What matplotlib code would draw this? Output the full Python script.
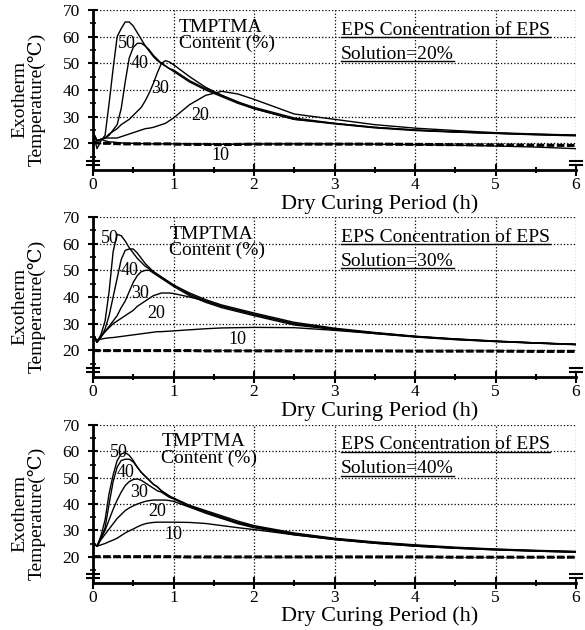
import matplotlib
matplotlib.use("Agg")
import matplotlib.pyplot as plt
from matplotlib.transforms import blended_transform_factory
import numpy as np

plt.rcParams['font.family'] = ['Liberation Serif', 'DejaVu Serif']
plt.rcParams['font.size'] = 13

# time grid (h)
t = [0, .05, .1, .15, .2, .25, .3, .35, .4, .45, .5, .55, .6, .65, .7, .75, .8, .85, .9, .95, 1.0,
     1.2, 1.4, 1.6, 1.8, 2.0, 2.5, 3.0, 3.5, 4.0, 4.5, 5.0, 5.5, 6.0]

contents = ['50', '40', '30', '20', '10']
eps_conc = ['20%', '30%', '40%']

# EPS 20%
eps20_50 = [24, 18, 21, 23, 35, 48, 60, 63, 65.5, 65.5, 64, 61.5, 59, 56.5, 54.5, 52.5, 51, 50, 49, 48, 47.5,
            43.5, 40.5, 38, 35.5, 33.5, 29.5, 27.5, 26, 25, 24.3, 23.8, 23.4, 23]
eps20_40 = [24, 21, 21.5, 22, 23, 25, 27, 33, 43, 52, 56, 57.5, 57.5, 56.5, 55, 53, 51.5, 50, 49, 48, 47,
            43, 40, 37.5, 35, 33, 29, 27.5, 26, 25, 24.3, 23.8, 23.3, 23]
eps20_30 = [24, 21, 21.5, 22, 23.5, 24.5, 25.5, 27, 28, 29, 30.5, 32, 33.5, 36, 39, 42.5, 46.5, 50, 51, 50.5, 49.5,
            45, 41, 38, 35.5, 33, 29, 27.3, 25.8, 24.8, 24.2, 23.7, 23.2, 22.8]
eps20_20 = [24, 21, 21.5, 22, 22, 22, 22, 22.5, 23, 23.5, 24, 24.5, 25, 25.5, 25.7, 26, 26.5, 27, 27.5, 28.5, 29.5,
            34.5, 38, 39.5, 38.5, 36.5, 31, 29, 27, 25.7, 24.8, 24, 23.5, 23.1]
eps20_10 = [24, 21, 21.5, 21, 20.5, 20.5, 20.3, 20.2, 20, 20, 20, 20, 19.9, 19.9, 19.8, 19.8, 19.8, 19.8, 19.8, 19.8, 19.8,
            19.8, 19.7, 19.6, 19.6, 19.7, 19.8, 19.8, 19.7, 19.5, 19.3, 19, 18.6, 18]
eps20_ref = [20.2, 20.2, 20.1, 20, 20, 19.9, 19.9, 19.8, 19.8, 19.8, 19.8, 19.8, 19.8, 19.8, 19.8, 19.8, 19.8, 19.8, 19.8, 19.8, 19.7,
             19.6, 19.6, 19.5, 19.6, 19.7, 19.7, 19.7, 19.7, 19.6, 19.5, 19.4, 19.3, 19.2]

# EPS 30%
eps30_50 = [26, 23, 26, 31, 42, 57, 63.5, 63, 61, 58.5, 56.5, 54.5, 53, 51.5, 50.5, 49.5, 48.5, 47.5, 46.5, 45.5, 44.5,
            41.5, 39, 37, 35.5, 34, 30.5, 28.3, 26.7, 25.3, 24.3, 23.5, 22.8, 22.3]
eps30_40 = [26, 23, 25, 28, 33, 40, 47, 54, 57.5, 58, 58, 56.5, 54.5, 52.5, 51, 49.5, 48.5, 47.5, 46.5, 45.5, 44.5,
            41, 38.5, 36.5, 35, 33.5, 30, 28, 26.5, 25.2, 24.2, 23.4, 22.8, 22.2]
eps30_30 = [26, 23, 25, 27, 29, 31, 33, 36, 38.5, 42, 45.5, 48, 49.5, 50, 50, 49, 48, 47, 46, 45, 44,
            40.5, 38, 36, 34.5, 33, 29.5, 27.8, 26.3, 25, 24, 23.3, 22.7, 22.2]
eps30_20 = [26, 23, 25.5, 27, 28.5, 30, 31, 32, 33, 34, 35, 36.5, 37.5, 38.5, 39.5, 40.5, 41, 41.5, 41.5, 41.5, 41.3,
            40, 38.5, 36.5, 35, 33.5, 30, 28, 26.5, 25.2, 24.2, 23.4, 22.8, 22.2]
eps30_10 = [25, 24, 24.2, 24.5, 24.7, 24.8, 25, 25.2, 25.4, 25.6, 25.8, 26, 26.2, 26.4, 26.6, 26.8, 27, 27, 27.1, 27.2, 27.3,
            27.7, 28.1, 28.4, 28.5, 28.6, 28.5, 27.5, 26.3, 25.1, 24.1, 23.3, 22.7, 22.1]
eps30_ref = [19.9] * 21 + [19.9, 19.8, 19.8, 19.8, 19.8, 19.8, 19.8, 19.8, 19.7, 19.7, 19.7, 19.6, 19.6]

# EPS 40%
eps40_50 = [25, 24, 28, 34, 44, 51, 56.5, 59, 59.5, 58.5, 56.5, 54, 52, 50.5, 49, 47.5, 46.5, 45, 44, 43, 42.3,
            39.5, 37.5, 35.5, 33.5, 31.8, 29, 27, 25.6, 24.5, 23.6, 22.9, 22.4, 22]
eps40_40 = [25, 24, 27, 31, 40, 48.5, 54, 56.5, 57, 57, 56, 54, 52, 50.5, 49, 47.5, 46.5, 45, 44, 43, 42,
            39.2, 37, 35, 33, 31.5, 28.7, 26.8, 25.4, 24.3, 23.4, 22.8, 22.3, 21.9]
eps40_30 = [25, 24, 27, 30, 34, 38, 41.5, 44.5, 47, 48.5, 49.3, 49.5, 49, 48, 47, 46, 45, 44.5, 43.5, 42.5, 42,
            39, 37, 34.8, 32.8, 31.3, 28.5, 26.7, 25.3, 24.2, 23.3, 22.7, 22.2, 21.8]
eps40_20 = [25, 24, 26.5, 28.5, 30.5, 32.5, 34.5, 36, 37.5, 38.5, 39.3, 40, 40.5, 41, 41.3, 41.5, 41.5, 41.5, 41.5, 41.3, 41,
            38.8, 36.5, 34.5, 32.5, 31, 28.3, 26.5, 25.1, 24, 23.2, 22.6, 22.1, 21.7]
eps40_10 = [25, 24, 24.5, 25, 25.7, 26.3, 27, 28, 29, 29.8, 30.5, 31.3, 32, 32.5, 32.8, 33, 33.1, 33.1, 33.1, 33.1, 33.1,
            33, 32.6, 31.8, 31, 30.3, 28.3, 26.5, 25.1, 24, 23.2, 22.6, 22.1, 21.7]
eps40_ref = [20.0] * 21 + [19.9, 19.9, 19.9, 19.9, 19.9, 19.9, 19.9, 19.9, 19.9, 19.8, 19.8, 19.8, 19.8]

panels = [
    [eps20_50, eps20_40, eps20_30, eps20_20, eps20_10, eps20_ref],
    [eps30_50, eps30_40, eps30_30, eps30_20, eps30_10, eps30_ref],
    [eps40_50, eps40_40, eps40_30, eps40_20, eps40_10, eps40_ref],
]

# curve label positions (x, y) per panel, order 50..10
label_pos = [
    [(0.42, 57.5), (0.58, 50), (0.83, 40.5), (1.33, 30.5), (1.58, 15.5)],
    [(0.21, 61.8), (0.46, 50), (0.58, 41.3), (0.79, 33.8), (1.8, 24)],
    [(0.32, 59.5), (0.41, 52), (0.57, 44.5), (0.8, 37.3), (1.0, 28.6)],
]
tmptma_x = [1.07, 0.95, 0.85]

fig = plt.figure(figsize=(5.85, 6.3), dpi=100)
tops = [10, 217, 425]
bottoms = [170, 377, 583]
axes = []
for k in range(3):
    y0 = 1 - bottoms[k] / 630
    h = (bottoms[k] - tops[k]) / 630
    ax = fig.add_axes([93 / 585, y0, (576 - 93) / 585, h])
    axes.append(ax)
    curves = panels[k]
    for c in curves[:5]:
        ax.plot(t, c, color='black', lw=1.0)
    ax.plot(t, curves[5], color='black', lw=2.2, ls=(0, (2.5, 0.8)))

    for lab, (lx, ly) in zip(contents, label_pos[k]):
        ax.text(lx, ly, lab, ha='center', va='center', fontsize=13)

    ax.text(tmptma_x[k], 66.8, 'TMPTMA\nContent (%)', ha='left', va='top', fontsize=14, linespacing=0.95)

    ax.set_xlim(0, 6)
    ax.set_ylim(10, 70)
    ax.set_xticks(range(7))
    ax.set_xticks(np.arange(0, 6.01, 0.5), minor=True)
    ax.set_yticks(range(20, 71, 10))
    ax.set_yticks(range(15, 71, 5), minor=True)
    ax.tick_params(axis='x', which='major', direction='inout', length=8, width=1.5, labelsize=12.5, pad=1)
    ax.tick_params(axis='x', which='minor', direction='inout', length=5, width=1.5)
    ax.tick_params(axis='y', which='major', direction='inout', length=7, width=1.5, labelsize=12.5, pad=6)
    ax.tick_params(axis='y', which='minor', direction='inout', length=4, width=1.2)
    ax.grid(True, which='major', ls=':', lw=0.9, color='black')
    for s in ['top', 'right']:
        ax.spines[s].set_visible(False)
    for s in ['left', 'bottom']:
        ax.spines[s].set_linewidth(2)

    ax.set_xlabel('Dry Curing Period (h)', fontsize=16)
    ax.xaxis.set_label_coords(0.594, -0.15)
    ax.set_ylabel('Exotherm\nTemperature(\u2103)', fontsize=14, linespacing=1.0)
    ax.yaxis.set_label_coords(-0.097, 0.44)

    # axis break marks
    bt = blended_transform_factory(ax.transAxes, ax.transData)
    for yy in (12.0, 13.4):
        ax.plot([-0.012, 0.012], [yy, yy], color='black', lw=1.5, transform=bt, clip_on=False)
        ax.plot([0.988, 1.012], [yy, yy], color='black', lw=1.5, transform=bt, clip_on=False)

    # underlined EPS text
    t1 = ax.text(3.08, 60.8, 'EPS Concentration of EPS', fontsize=14, ha='left', va='baseline')
    t2 = ax.text(3.08, 51.8, 'Solution=' + eps_conc[k], fontsize=14, ha='left', va='baseline')
    ax._under = [t1, t2]

fig.canvas.draw()
r = fig.canvas.get_renderer()
for ax in axes:
    for tx in ax._under:
        bb = tx.get_window_extent(renderer=r)
        inv = fig.transFigure.inverted()
        (x0, y0), (x1, y1) = inv.transform([(bb.x0, bb.y0), (bb.x1, bb.y0)])
        fig.add_artist(plt.Line2D([x0, x1], [y0 + 0.002, y0 + 0.002], color='black', lw=1.0,
                                  transform=fig.transFigure))

fig.savefig('out.png', dpi=100)
